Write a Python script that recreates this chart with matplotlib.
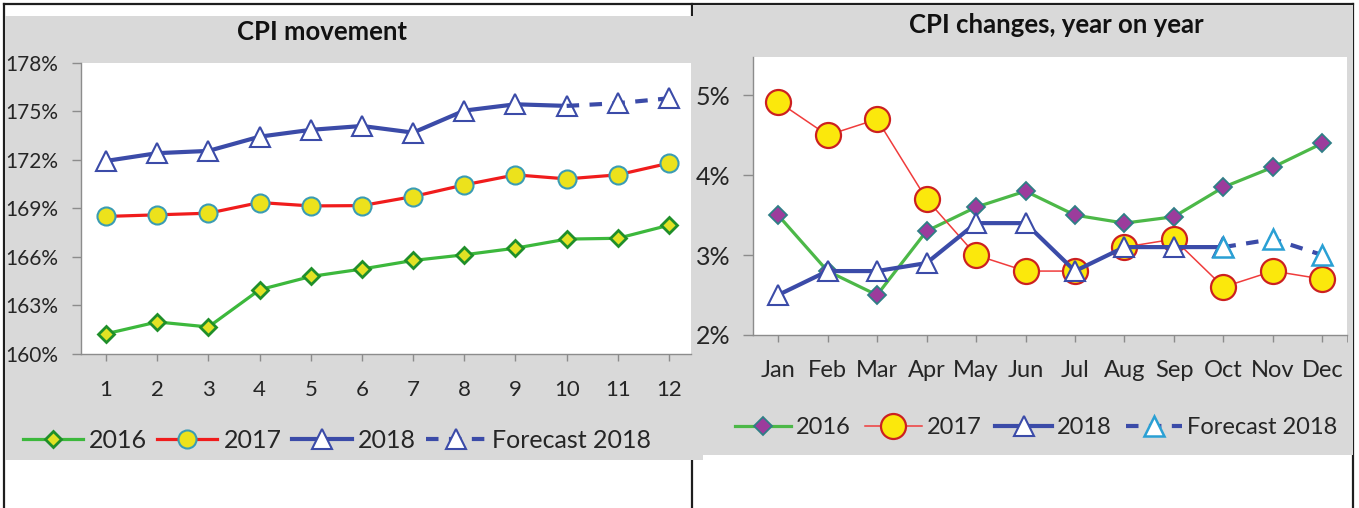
import matplotlib.pyplot as plt
from matplotlib.lines import Line2D
from matplotlib.patches import Rectangle

plt.rcParams['font.family'] = ['Lato', 'DejaVu Sans']

W, H = 1359, 508

# left chart: CPI movement (index, %)
months_num = list(range(1, 13))
cpi_2016 = [161.25, 161.98, 161.67, 163.97, 164.79, 165.25, 165.78, 166.13, 166.54, 167.10, 167.15, 167.96]
cpi_2017 = [168.50, 168.60, 168.70, 169.36, 169.15, 169.17, 169.73, 170.45, 171.07, 170.82, 171.07, 171.79]
cpi_2018 = [171.93, 172.41, 172.55, 173.43, 173.85, 174.09, 173.68, 175.04, 175.43, 175.33]
cpi_fc_x = [10, 11, 12]
cpi_fc = [175.33, 175.50, 175.80]
cpi_yticks = [160, 163, 166, 169, 172, 175, 178]

# right chart: CPI changes, year on year (%)
months = ['Jan', 'Feb', 'Mar', 'Apr', 'May', 'Jun', 'Jul', 'Aug', 'Sep', 'Oct', 'Nov', 'Dec']
yoy_2016 = [3.50, 2.80, 2.50, 3.30, 3.60, 3.80, 3.50, 3.40, 3.48, 3.85, 4.10, 4.40]
yoy_2017 = [4.92, 4.50, 4.70, 3.70, 3.00, 2.80, 2.80, 3.10, 3.20, 2.60, 2.80, 2.70]
yoy_2018 = [2.50, 2.80, 2.80, 2.90, 3.40, 3.40, 2.80, 3.10, 3.10, 3.10]
yoy_fc_x = [9, 10, 11]
yoy_fc = [3.10, 3.20, 3.00]
yoy_yticks = [2, 3, 4, 5]

GRAY = '#d9d9d9'
AXC = '#8c8c8c'
TXT = '#262626'
BLUE = '#3b4ba8'


def fx(x):
    return x / W


def fy(y):
    return 1 - y / H


def box(x0, y0, x1, y1):
    return [fx(x0), fy(y1), fx(x1) - fx(x0), fy(y0) - fy(y1)]


fig = plt.figure(figsize=(W / 100, H / 100), dpi=100)
fig.patch.set_facecolor('white')

# frame lines and gray panels, kept behind the axes
for xs, ys in [((4, 1353), (4, 4)), ((4, 4), (4, 508)), ((691.7, 691.7), (4, 508)), ((1352.5, 1352.5), (4, 508))]:
    fig.add_artist(Line2D([fx(x) for x in xs], [fy(y) for y in ys], color='#1e1e1e', lw=1.6, zorder=-20))
fig.add_artist(Rectangle((fx(5), fy(460)), fx(703) - fx(5), fy(16) - fy(460), color=GRAY, lw=0, zorder=-10))
fig.add_artist(Rectangle((fx(692.7), fy(455)), fx(1353) - fx(692.7), fy(5) - fy(455), color=GRAY, lw=0, zorder=-10))


def style_axes(ax):
    ax.set_facecolor('white')
    for s in ['top', 'right']:
        ax.spines[s].set_visible(False)
    for s in ['left', 'bottom']:
        ax.spines[s].set_color(AXC)
        ax.spines[s].set_linewidth(1.0)
    ax.tick_params(colors=AXC, labelcolor=TXT, direction='out', width=1.0)


# ---- left chart
ax1 = fig.add_axes(box(81, 62.7, 691, 354))
style_axes(ax1)
ax1.plot(months_num, cpi_2016, color='#3cb83c', lw=2.3, marker='D', ms=8.5,
         mfc='#e2e224', mec='#1f8f2a', mew=2, label='2016', zorder=3)
ax1.plot(months_num, cpi_2017, color='#f01c1c', lw=2.3, marker='o', ms=13,
         mfc='#ece21c', mec='#3a9cb4', mew=1.5, label='2017', zorder=4)
ax1.plot(months_num[:len(cpi_2018)], cpi_2018, color=BLUE, lw=3, marker='^', ms=14,
         mfc='white', mec=BLUE, mew=1.5, label='2018', zorder=5)
ax1.plot(cpi_fc_x, cpi_fc, color=BLUE, lw=3, ls=(0, (3, 2.5)), marker='^', ms=14,
         mfc='white', mec=BLUE, mew=1.5, label='Forecast 2018', zorder=5, markevery=[1, 2])
ax1.set_xlim(0.51, 12.43)
ax1.set_ylim(160, 178)
ax1.set_xticks(months_num)
ax1.set_xticklabels([str(m) for m in months_num], fontsize=16)
ax1.set_yticks(cpi_yticks)
ax1.set_yticklabels([f'{v}%' for v in cpi_yticks], fontsize=15)
ax1.tick_params(axis='y', length=6.5, pad=10)
ax1.tick_params(axis='x', length=5, pad=14)
fig.text(fx(322), fy(32), 'CPI movement', ha='center', va='center', fontsize=18.5,
         fontweight='bold', color='#111111')
leg1 = fig.legend(handles=ax1.get_lines(), loc='center', bbox_to_anchor=(fx(337), fy(440.7)),
                  ncol=4, frameon=False, fontsize=18, handlelength=2.4, handletextpad=0.25,
                  columnspacing=0.4, borderaxespad=0)
for t in leg1.get_texts():
    t.set_color(TXT)

# ---- right chart
ax2 = fig.add_axes(box(753, 57.3, 1346.7, 335))
style_axes(ax2)
x = list(range(len(months)))
ax2.plot(x, yoy_2016, color='#4cb848', lw=2.3, marker='D', ms=9.5,
         mfc='#9c3c9c', mec='#2f7f86', mew=1.3, label='2016', zorder=3)
ax2.plot(x, yoy_2017, color='#f03c3c', lw=1.1, marker='o', ms=18,
         mfc='#fbe80c', mec='#cc2020', mew=1.6, label='2017', zorder=4)
ax2.plot(x[:len(yoy_2018)], yoy_2018, color=BLUE, lw=3, marker='^', ms=14,
         mfc='white', mec=BLUE, mew=1.5, label='2018', zorder=5)
ax2.plot(yoy_fc_x, yoy_fc, color=BLUE, lw=3, ls=(0, (3, 2.5)), marker='^', ms=14,
         mfc='white', mec='#2aa0d4', mew=1.8, label='Forecast 2018', zorder=6)
ax2.set_xlim(-0.506, 11.49)
ax2.set_ylim(2, 5.475)
ax2.set_xticks(x)
ax2.set_xticklabels(months, fontsize=17)
ax2.set_xticks([11.49], minor=True)
ax2.set_yticks(yoy_yticks)
ax2.set_yticklabels([f'{v}%' for v in yoy_yticks], fontsize=18)
ax2.tick_params(axis='y', length=7, pad=9)
ax2.tick_params(axis='x', which='both', length=5, pad=13, colors=AXC, labelcolor=TXT)
fig.text(fx(1056), fy(25), 'CPI changes, year on year', ha='center', va='center', fontsize=18.5,
         fontweight='bold', color='#111111')
leg2 = fig.legend(handles=ax2.get_lines(), loc='center', bbox_to_anchor=(fx(1036), fy(428)),
                  ncol=4, frameon=False, fontsize=17, handlelength=2.4, handletextpad=0.2,
                  columnspacing=0.6, borderaxespad=0)
for t in leg2.get_texts():
    t.set_color(TXT)

fig.savefig('out.png', dpi=100)
